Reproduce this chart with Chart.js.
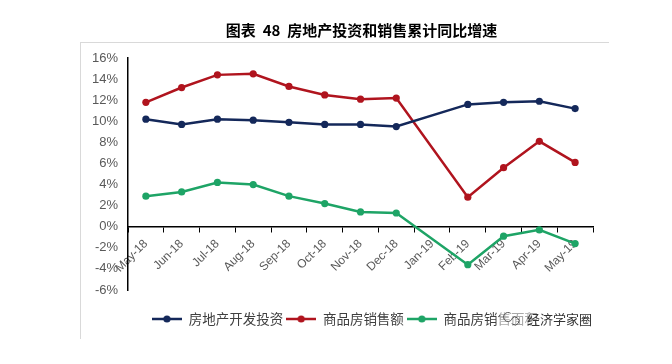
<!DOCTYPE html>
<html>
<head>
<meta charset="utf-8">
<script src="https://cdn.jsdelivr.net/npm/chart.js@4"></script>
<style>
  html, body { margin: 0; padding: 0; background: #fff; }
  #wrap { width: 672px; height: 364px; }
</style>
</head>
<body>
<div id="wrap"><canvas id="c"></canvas></div>
<script>
// categories and series (Jan-19 has no value)
const months = ["May-18", "Jun-18", "Jul-18", "Aug-18", "Sep-18", "Oct-18", "Nov-18", "Dec-18", "Jan-19", "Feb-19", "Mar-19", "Apr-19", "May-19"];
const investment = [10.2, 9.7, 10.2, 10.1, 9.9, 9.7, 9.7, 9.5, null, 11.6, 11.8, 11.9, 11.2];
const salesAmount = [11.8, 13.2, 14.4, 14.5, 13.3, 12.5, 12.1, 12.2, null, 2.8, 5.6, 8.1, 6.1];
const salesArea = [2.9, 3.3, 4.2, 4.0, 2.9, 2.2, 1.4, 1.3, null, -3.6, -0.9, -0.3, -1.6];
const seriesNames = ["房地产开发投资", "商品房销售额", "商品房销售面积"];
const seriesColors = ["#14285a", "#b0141e", "#1ea466"];

const titleText = "图表  48  房地产投资和销售累计同比增速";
const watermarkText = "经济学家圈";

function legendMarker(color) {
    let cv = document.createElement("canvas");
    cv.width = 30;
    cv.height = 10;
    let g = cv.getContext("2d");
    g.strokeStyle = color;
    g.lineWidth = 2.5;
    g.beginPath();
    g.moveTo(0, 5);
    g.lineTo(30, 5);
    g.stroke();
    g.fillStyle = color;
    g.beginPath();
    g.arc(15, 5, 3.6, 0, Math.PI * 2);
    g.fill();
    return cv;
}

function makeSet(i, data) {
    return {
        label: seriesNames[i],
        data: data,
        borderColor: seriesColors[i],
        backgroundColor: seriesColors[i],
        pointBackgroundColor: seriesColors[i],
        borderWidth: 2.5,
        pointRadius: 3.6,
        pointBorderWidth: 0,
        pointHoverRadius: 3.6,
        tension: 0,
        spanGaps: true
    };
}

// title, frame lines and the watermark
const decor = {
    id: "decor",
    afterLayout(chart) {
        // legend sits a little right of centre in the original
        chart.legend.left += 17;
    },
    beforeDraw(chart) {
        let ctx = chart.ctx;
        ctx.save();
        ctx.strokeStyle = "#d9d9d9";
        ctx.lineWidth = 1;
        ctx.beginPath();
        ctx.moveTo(81, 42.5);
        ctx.lineTo(609, 42.5);
        ctx.moveTo(80.5, 42);
        ctx.lineTo(80.5, 339);
        ctx.stroke();
        ctx.fillStyle = "#000";
        ctx.font = "bold 15px 'Noto Sans CJK SC'";
        ctx.textAlign = "center";
        ctx.textBaseline = "middle";
        ctx.fillText(titleText, 361.5, 30);
        ctx.restore();
    },
    afterDraw(chart) {
        let ctx = chart.ctx;
        ctx.save();
        ctx.fillStyle = "rgba(255,255,255,0.55)";
        ctx.fillRect(500, 310, 95, 18);
        ctx.strokeStyle = "#555";
        ctx.lineWidth = 1;
        ctx.beginPath();
        ctx.arc(508, 317, 4.5, 0.3, Math.PI * 1.7);
        ctx.stroke();
        ctx.beginPath();
        ctx.arc(515, 321, 4, Math.PI * 1.2, Math.PI * 2.8);
        ctx.stroke();
        ctx.fillStyle = "#333";
        ctx.font = "13px 'Noto Sans CJK SC'";
        ctx.textAlign = "left";
        ctx.textBaseline = "middle";
        ctx.fillText(watermarkText, 527, 319);
        ctx.restore();
    }
};

new Chart(document.getElementById("c").getContext("2d"), {
    type: "line",
    data: {
        labels: months,
        datasets: [makeSet(0, investment), makeSet(1, salesAmount), makeSet(2, salesArea)]
    },
    options: {
        responsive: true,
        maintainAspectRatio: false,
        animation: false,
        layout: {
            padding: { left: 80, right: 79, top: 58, bottom: 28.25 }
        },
        scales: {
            x: {
                type: "category",
                position: { y: 0 },
                offset: true,
                grid: {
                    display: true,
                    drawOnChartArea: false,
                    drawTicks: true,
                    tickLength: 5,
                    offset: true,
                    color: "#000"
                },
                border: { display: true, color: "#000", width: 1.5 },
                ticks: {
                    autoSkip: false,
                    minRotation: 45,
                    maxRotation: 45,
                    padding: 5,
                    color: "#595959",
                    font: { family: "'Liberation Sans', Arial", size: 12 }
                }
            },
            xSpace: {
                type: "category",
                position: "bottom",
                display: true,
                grid: { display: false },
                border: { display: false },
                ticks: { display: false },
                afterFit(scale) { scale.height = 19.25; }
            },
            y: {
                min: -6,
                max: 16,
                grid: { display: false, drawTicks: false },
                border: { display: true, color: "#000", width: 1.5 },
                ticks: {
                    stepSize: 2,
                    padding: 10,
                    color: "#595959",
                    font: { family: "'Liberation Sans', Arial", size: 13 },
                    callback: (v) => v + "%"
                },
                afterFit(scale) { scale.width = 48; }
            }
        },
        plugins: {
            title: { display: false },
            tooltip: { enabled: false },
            legend: {
                display: true,
                position: "bottom",
                labels: {
                    usePointStyle: true,
                    pointStyleWidth: 30,
                    padding: 3,
                    color: "#404040",
                    font: { family: "'Noto Sans CJK SC'", size: 13.5 },
                    generateLabels(chart) {
                        let items = Chart.defaults.plugins.legend.labels.generateLabels(chart);
                        items.forEach((it, i) => {
                            it.pointStyle = legendMarker(seriesColors[i]);
                        });
                        return items;
                    }
                }
            }
        }
    },
    plugins: [decor]
});
</script>
</body>
</html>
